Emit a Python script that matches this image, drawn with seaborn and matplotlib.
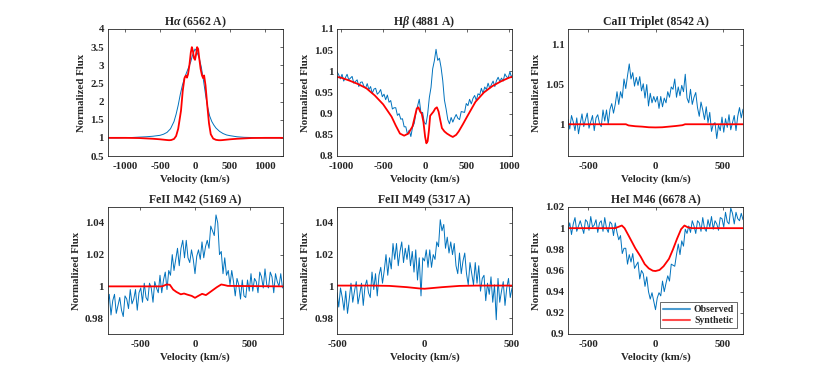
import numpy as np
import matplotlib
matplotlib.use("Agg")
import matplotlib.pyplot as plt
import seaborn as sns
from matplotlib.ticker import FuncFormatter

# ---- H alpha ----
ha_obs_vel = [-1250, -1100, -1000, -900, -800, -700, -600, -500, -450, -400, -350, -300, -270, -240,
              -210, -180, -150, -120, -90, -60, -40, -20, 0, 20, 40, 60, 90, 120, 150, 180, 210,
              240, 270, 300, 350, 400, 450, 500, 600, 700, 800, 900, 1000, 1100, 1250]
ha_obs_flux = [1.0, 1.0, 1.005, 1.01, 1.02, 1.03, 1.045, 1.07, 1.1, 1.15, 1.25, 1.45, 1.65, 1.9,
               2.2, 2.45, 2.65, 2.8, 2.95, 3.1, 3.25, 3.35, 3.45, 3.4, 3.3, 3.2, 2.95, 2.6, 2.2,
               1.85, 1.6, 1.45, 1.35, 1.27, 1.18, 1.12, 1.08, 1.06, 1.03, 1.015, 1.01, 1.005, 1.0,
               1.0, 1.0]
ha_syn_vel = [-1250, -1000, -800, -600, -500, -400, -370, -340, -300, -270, -240, -200, -175, -150,
              -130, -115, -100, -80, -60, -45, -30, -15, 0, 15, 30, 45, 60, 80, 100, 115, 130, 150,
              175, 200, 225, 260, 300, 340, 370, 400, 500, 600, 800, 1000, 1250]
ha_syn_flux = [1.0, 1.0, 0.995, 0.975, 0.96, 0.94, 0.935, 0.94, 0.97, 1.05, 1.25, 1.75, 2.3, 2.65,
               2.72, 2.66, 2.75, 3.0, 3.35, 3.5, 3.4, 3.2, 3.15, 3.3, 3.5, 3.45, 3.2, 2.9, 2.72,
               2.65, 2.72, 2.45, 1.9, 1.4, 1.1, 0.98, 0.945, 0.935, 0.935, 0.94, 0.96, 0.975,
               0.995, 1.0, 1.0]

# ---- H beta ----
hb_obs_vel = np.arange(-1090, 1091, 20)
hb_obs_flux = [0.996, 0.987, 0.999, 0.992, 0.982, 0.993, 0.977, 0.985, 0.993, 0.980,
               0.984, 0.988, 0.972, 0.976, 0.980, 0.964, 0.974, 0.975, 0.965, 0.960,
               0.971, 0.957, 0.964, 0.948, 0.958, 0.960, 0.946, 0.950, 0.957, 0.940,
               0.946, 0.933, 0.944, 0.927, 0.931, 0.911, 0.914, 0.914, 0.896, 0.900,
               0.887, 0.888, 0.869, 0.869, 0.851, 0.861, 0.846, 0.868, 0.877, 0.901,
               0.918, 0.934, 0.902, 0.903, 0.879, 0.875, 0.899, 0.938, 0.962, 1.006,
               1.025, 1.052, 1.026, 1.031, 1.009, 0.978, 0.932, 0.911, 0.886, 0.876,
               0.891, 0.880, 0.890, 0.898, 0.889, 0.886, 0.905, 0.904, 0.903, 0.924,
               0.919, 0.934, 0.923, 0.936, 0.943, 0.931, 0.947, 0.944, 0.960, 0.948,
               0.963, 0.957, 0.972, 0.960, 0.969, 0.977, 0.964, 0.978, 0.986, 0.976,
               0.984, 0.977, 0.994, 0.987, 0.985, 0.999, 0.985, 0.998, 0.996, 0.992]
hb_syn_vel = [-1090, -1000, -900, -800, -700, -600, -500, -400, -350, -300, -250, -200, -150,
              -120, -100, -80, -60, -40, -20, 0, 15, 30, 45, 60, 80, 100, 120, 140, 160, 180,
              200, 230, 260, 300, 330, 370, 400, 450, 500, 600, 700, 800, 900, 1000, 1090]
hb_syn_flux = [0.988, 0.985, 0.978, 0.97, 0.96, 0.943, 0.922, 0.893, 0.872, 0.853, 0.848, 0.853,
               0.87, 0.895, 0.912, 0.915, 0.905, 0.9, 0.88, 0.845, 0.83, 0.835, 0.86, 0.895,
               0.9, 0.905, 0.912, 0.915, 0.905, 0.885, 0.866, 0.858, 0.853, 0.848, 0.845, 0.85,
               0.858, 0.875, 0.893, 0.928, 0.95, 0.965, 0.976, 0.985, 0.99]

# ---- CaII triplet ----
ca_obs_vel = np.arange(-650, 651, 13)
ca_obs_flux = [1.006, 0.994, 1.011, 1.003, 0.992, 1.008, 0.988, 1.001, 1.013, 0.997,
               1.006, 1.014, 0.995, 1.003, 1.011, 0.992, 1.008, 1.012, 1.001, 0.997,
               1.018, 1.004, 1.018, 1.000, 1.019, 1.026, 1.014, 1.025, 1.041, 1.025,
               1.041, 1.033, 1.057, 1.045, 1.061, 1.076, 1.057, 1.065, 1.048, 1.059,
               1.049, 1.060, 1.042, 1.051, 1.033, 1.050, 1.023, 1.039, 1.027, 1.035,
               1.028, 1.035, 1.020, 1.035, 1.022, 1.033, 1.027, 1.041, 1.034, 1.047,
               1.044, 1.057, 1.034, 1.047, 1.036, 1.049, 1.041, 1.063, 1.033, 1.027,
               1.044, 1.025, 1.034, 1.040, 1.021, 1.010, 1.028, 1.018, 1.006, 1.022,
               1.002, 1.015, 0.991, 1.000, 1.002, 0.982, 0.999, 0.992, 1.009, 0.990,
               1.007, 0.996, 1.012, 0.993, 1.002, 1.011, 0.992, 1.010, 1.021, 1.008,
               1.019]
ca_syn_vel = [-650, -300, -220, -200, -150, -100, -50, 0, 50, 100, 150, 200, 220, 240, 650]
ca_syn_flux = [1.0, 1.0, 1.0, 0.9985, 0.9975, 0.997, 0.9962, 0.996, 0.9962, 0.997, 0.9978,
               0.9988, 1.0, 1.0, 1.0]

# ---- FeII M42 ----
fe42_obs_vel = np.arange(-800, 801, 16)
fe42_obs_flux = [0.988, 0.995, 0.982, 0.991, 0.995, 0.983, 0.988, 0.993, 0.985, 0.981,
                 0.994, 0.992, 0.986, 0.998, 0.989, 0.992, 0.998, 0.985, 0.996, 0.999,
                 0.990, 1.002, 0.993, 0.991, 1.002, 0.999, 0.990, 1.003, 0.999, 0.996,
                 1.007, 0.996, 1.004, 1.009, 0.998, 1.010, 1.007, 1.020, 1.010, 1.017,
                 1.024, 1.013, 1.024, 1.029, 1.018, 1.029, 1.018, 1.015, 1.023, 1.017,
                 1.008, 1.019, 1.023, 1.017, 1.028, 1.018, 1.025, 1.029, 1.024, 1.038,
                 1.035, 1.032, 1.045, 1.040, 1.020, 1.022, 1.008, 1.018, 1.007, 1.010,
                 1.001, 1.010, 1.003, 0.994, 1.005, 1.001, 0.992, 1.004, 0.994, 0.993,
                 1.004, 0.997, 1.008, 0.997, 1.005, 1.003, 0.996, 1.009, 1.006, 0.999,
                 1.011, 1.001, 0.999, 1.009, 1.006, 0.996, 1.008, 1.003, 1.000, 1.008,
                 0.999]
fe42_syn_vel = [-800, -300, -260, -230, -200, -170, -130, -100, -70, -30, 0, 30, 65, 100, 150,
                200, 240, 270, 300, 800]
fe42_syn_flux = [1.0, 1.0, 1.0012, 1.001, 0.998, 0.9965, 0.995, 0.9955, 0.9948, 0.994, 0.9928,
                 0.994, 0.9953, 0.9945, 0.997, 0.9995, 1.0012, 1.0008, 1.0003, 1.0]

# ---- FeII M49 ----
fe49_obs_vel = np.arange(-500, 501, 10)
fe49_obs_flux = [0.996, 0.987, 0.999, 0.993, 0.985, 0.997, 0.983, 0.992, 1.002, 0.990,
                 0.997, 1.003, 0.989, 0.995, 1.002, 0.988, 1.000, 1.004, 0.996, 0.993,
                 1.009, 0.998, 1.008, 0.994, 1.007, 1.012, 1.002, 1.010, 1.020, 1.007,
                 1.018, 1.011, 1.027, 1.017, 1.027, 1.013, 1.022, 1.028, 1.015, 1.024,
                 1.017, 1.026, 1.013, 1.022, 1.009, 1.023, 1.004, 1.018, 0.994, 1.018,
                 1.016, 1.023, 1.012, 1.023, 1.012, 1.020, 1.017, 1.028, 1.025, 1.042,
                 1.035, 1.039, 1.024, 1.031, 1.021, 1.028, 1.020, 1.027, 1.013, 1.008,
                 1.021, 1.008, 1.016, 1.021, 1.008, 1.001, 1.015, 1.008, 1.001, 1.015,
                 1.002, 1.013, 0.997, 1.005, 1.007, 0.991, 1.002, 0.995, 1.006, 0.990,
                 1.001, 0.979, 1.005, 0.990, 0.997, 1.003, 0.988, 0.999, 1.005, 0.993,
                 0.999]
fe49_syn_vel = [-500, -300, -200, -100, -30, 0, 30, 100, 200, 300, 500]
fe49_syn_flux = [1.0005, 1.0005, 1.0003, 0.9995, 0.9987, 0.9985, 0.9988, 0.9995, 1.0003,
                 1.0005, 1.0005]

# ---- HeI M46 ----
he_obs_vel = np.arange(-650, 651, 13)
he_obs_flux = [0.998, 1.005, 0.994, 1.004, 1.010, 0.997, 1.002, 1.007, 1.001, 0.995,
               1.008, 1.006, 0.998, 1.011, 1.001, 1.003, 1.008, 0.996, 1.005, 1.007,
               0.997, 1.010, 1.000, 0.996, 1.006, 1.004, 0.993, 1.005, 0.996, 0.989,
               0.993, 0.976, 0.981, 0.981, 0.966, 0.975, 0.968, 0.976, 0.962, 0.965,
               0.968, 0.952, 0.960, 0.957, 0.945, 0.954, 0.940, 0.933, 0.939, 0.931,
               0.923, 0.934, 0.939, 0.936, 0.950, 0.940, 0.948, 0.955, 0.950, 0.966,
               0.965, 0.964, 0.975, 0.985, 0.975, 0.988, 0.983, 0.999, 0.995, 1.002,
               0.996, 1.007, 1.002, 0.995, 1.007, 1.005, 0.997, 1.010, 1.000, 0.997,
               1.008, 1.001, 1.011, 0.999, 1.007, 1.004, 0.998, 1.010, 1.009, 1.001,
               1.015, 1.006, 1.004, 1.019, 1.014, 1.004, 1.015, 1.009, 1.007, 1.014,
               1.008]
he_syn_vel = [-650, -300, -270, -250, -230, -200, -150, -110, -80, -50, -20, 0, 30, 60, 100,
              130, 160, 190, 215, 240, 270, 650]
he_syn_flux = [1.0, 1.0, 1.0015, 1.0025, 1.0, 0.993, 0.981, 0.973, 0.966, 0.962, 0.9598,
               0.9595, 0.9605, 0.964, 0.971, 0.98, 0.99, 0.999, 1.0025, 1.0008, 1.0, 1.0]

titles = [r"H$\alpha$ (6562 A)", r"H$\beta$ (4881 A)", "CaII Triplet (8542 A)",
          "FeII M42 (5169 A)", "FeII M49 (5317 A)", "HeI M46 (6678 A)"]

sns.set_theme(style="white")
plt.rcParams["font.family"] = ["Liberation Serif", "DejaVu Serif"]
plt.rcParams["font.weight"] = "bold"
plt.rcParams["mathtext.fontset"] = "custom"
plt.rcParams["mathtext.rm"] = "Liberation Serif:bold"
plt.rcParams["mathtext.it"] = "Liberation Serif:italic"
plt.rcParams["axes.unicode_minus"] = False

panels = [
    (ha_obs_vel, ha_obs_flux, ha_syn_vel, ha_syn_flux, (-1250, 1250), (0.5, 4),
     [-1000, -500, 0, 500, 1000], np.arange(0.5, 4.01, 0.5)),
    (hb_obs_vel, hb_obs_flux, hb_syn_vel, hb_syn_flux, (-1050, 1035), (0.8, 1.1),
     [-1000, -500, 0, 500, 1000], np.arange(0.8, 1.101, 0.05)),
    (ca_obs_vel, ca_obs_flux, ca_syn_vel, ca_syn_flux, (-650, 650), (0.96, 1.12),
     [-500, 0, 500], [1.0, 1.05, 1.1]),
    (fe42_obs_vel, fe42_obs_flux, fe42_syn_vel, fe42_syn_flux, (-800, 800), (0.97, 1.05),
     [-500, 0, 500], [0.98, 1.0, 1.02, 1.04]),
    (fe49_obs_vel, fe49_obs_flux, fe49_syn_vel, fe49_syn_flux, (-500, 500), (0.97, 1.05),
     [-500, 0, 500], [0.98, 1.0, 1.02, 1.04]),
    (he_obs_vel, he_obs_flux, he_syn_vel, he_syn_flux, (-650, 650), (0.9, 1.02),
     [-500, 0, 500], np.arange(0.9, 1.021, 0.02)),
]

fig = plt.figure(figsize=(8.22, 3.76), dpi=100)
lefts = [107.5, 337, 568]
tops = [29, 207]
W, H = 822, 376
fmt = FuncFormatter(lambda v, p: f"{v:g}")
txt = "#262626"

for i, (ov, of, sv, sf, xl, yl, xt, yt) in enumerate(panels):
    r, c = divmod(i, 3)
    ax = fig.add_axes([lefts[c] / W, (H - tops[r] - 127) / H, 175 / W, 127 / H])
    sns.lineplot(x=ov, y=of, ax=ax, color="#0072BD", lw=0.7, label="Observed",
                 estimator=None, sort=False)
    sns.lineplot(x=sv, y=sf, ax=ax, color="#FF0000", lw=1.3, label="Synthetic",
                 estimator=None, sort=False)
    ax.set_xlim(*xl)
    ax.set_ylim(*yl)
    ax.set_xticks(xt)
    ax.set_yticks(yt)
    ax.xaxis.set_major_formatter(fmt)
    ax.yaxis.set_major_formatter(fmt)
    ax.tick_params(direction="in", top=True, right=True, length=2.5, width=0.5,
                   labelsize=7.8, colors=txt)
    ax.tick_params(axis="x", pad=4)
    ax.tick_params(axis="y", pad=2.5)
    for s in ax.spines.values():
        s.set_color(txt)
        s.set_linewidth(0.6)
    ax.set_title(titles[i], fontsize=8.5, fontweight="bold", pad=3)
    ax.set_xlabel("Velocity (km/s)", fontsize=7.8, fontweight="bold", color=txt, labelpad=2.5)
    ax.set_ylabel("Normalized Flux", fontsize=7.8, fontweight="bold", color=txt, labelpad=3)
    if i == 5:
        leg = ax.legend(loc="lower right", fontsize=7, frameon=True, fancybox=False,
                        borderpad=0.3, handlelength=2.8, labelspacing=0.2,
                        borderaxespad=0.6, handletextpad=0.4)
        leg.get_frame().set_edgecolor(txt)
        leg.get_frame().set_linewidth(0.6)
        for h in leg.get_lines():
            h.set_linewidth(1.5)
            h.set_alpha(0.7)
    else:
        ax.get_legend().remove()

fig.savefig("out.png", dpi=100)
